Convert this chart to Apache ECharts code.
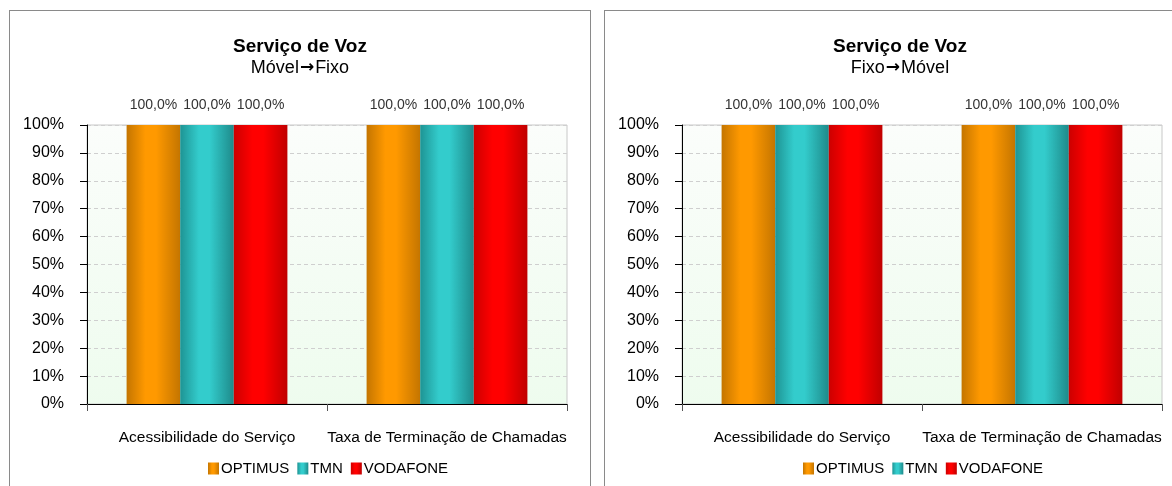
<!DOCTYPE html>
<html><head><meta charset="utf-8">
<script src="https://cdn.jsdelivr.net/npm/echarts@6/dist/echarts.min.js"></script>
<style>
html,body{margin:0;padding:0;background:#fff;width:1172px;height:486px;overflow:hidden;}
.panel{position:absolute;border:1px solid #8a8a8a;background:#fff;}
#p1{left:9px;top:10px;width:580px;height:490px;}
#p2{left:604px;top:10px;width:590px;height:490px;}
.chart{position:absolute;left:0;top:0;width:100%;height:100%;}
</style></head>
<body>
<div class="panel" id="p1"><div class="chart" id="c1"></div></div>
<div class="panel" id="p2"><div class="chart" id="c2"></div></div>
<script>
const categories = ['Acessibilidade do Serviço', 'Taxa de Terminação de Chamadas'];
const seriesNames = ['OPTIMUS', 'TMN', 'VODAFONE'];
const movelFixo = {
  OPTIMUS: [100.0, 100.0],
  TMN: [100.0, 100.0],
  VODAFONE: [100.0, 100.0]
};
const fixoMovel = {
  OPTIMUS: [100.0, 100.0],
  TMN: [100.0, 100.0],
  VODAFONE: [100.0, 100.0]
};
const yTicks = [0, 10, 20, 30, 40, 50, 60, 70, 80, 90, 100];
const subtitles = [['Móvel', 'Fixo'], ['Fixo', 'Móvel']];
const titleText = 'Serviço de Voz';

const FONT = '"Liberation Sans Narrow", "Arial Narrow", "Liberation Sans", Arial, sans-serif';
const palettes = {
  OPTIMUS: ['#c47500', '#ff9900', '#ff9900', '#c47500'],
  TMN: ['#1e9494', '#33cccc', '#33cccc', '#1e8a8a'],
  VODAFONE: ['#cc0000', '#ff0000', '#ff0000', '#c00000']
};
function grad(name){
  const p = palettes[name];
  return new echarts.graphic.LinearGradient(0,0,1,0,[
    {offset:0,color:p[0]},{offset:0.35,color:p[1]},{offset:0.55,color:p[2]},{offset:1,color:p[3]}
  ]);
}

function build(el, sub, data){
  const chart = echarts.init(document.getElementById(el), null, {renderer:'canvas'});
  chart.setOption({
    animation:false,
    textStyle:{fontFamily:FONT},
    title:{
      text:titleText, subtext:sub[0] + '{a|\u2192}' + sub[1], left:'center', top:21, itemGap:3,
      textStyle:{fontFamily:FONT,fontSize:19,fontWeight:'bold',color:'#000'},
      subtextStyle:{fontFamily:FONT,fontSize:18,color:'#000',
        rich:{a:{fontFamily:'"DejaVu Sans", sans-serif',fontSize:17,fontWeight:'bold',color:'#000',padding:[0,1,0,1]}}}
    },
    legend:{
      data:seriesNames, left:193, top:445, itemWidth:11, itemHeight:12, itemGap:8,
      icon:'rect',
      textStyle:{fontFamily:FONT,fontSize:15,color:'#000',padding:[0,0,0,-3]}
    },
    grid:{
      left:77, top:114, width:480, height:279, show:true,
      backgroundColor:new echarts.graphic.LinearGradient(0,0,0,1,[
        {offset:0,color:'#fbfdfb'},{offset:1,color:'#eefcee'}
      ]),
      borderColor:'#c8c8c8', borderWidth:1
    },
    xAxis:{
      type:'category', data:categories,
      axisLine:{lineStyle:{color:'#000',width:1}},
      axisTick:{show:true,length:7,lineStyle:{color:'#555'}},
      axisLabel:{fontFamily:FONT,fontSize:15.5,color:'#000',margin:26,interval:0}
    },
    yAxis:{
      type:'value', min:yTicks[0], max:yTicks[yTicks.length-1], interval:10,
      axisLine:{show:true,lineStyle:{color:'#000',width:1}},
      axisTick:{show:true,length:7,lineStyle:{color:'#000'}},
      axisLabel:{fontFamily:FONT,fontSize:16,color:'#000',margin:23,
        formatter:v=>yTicks.indexOf(v)>=0 ? v+'%' : ''},
      splitLine:{show:true,lineStyle:{color:'#cfcfcf',type:[4,3],width:1}}
    },
    series:seriesNames.map(n=>({
      name:n, type:'bar', data:data[n], barGap:'0%', barCategoryGap:'33%',
      itemStyle:{color:grad(n)},
      label:{show:true,position:'top',distance:13,fontFamily:FONT,fontSize:14,color:'#333',
        formatter:p=>p.value.toFixed(1).replace('.',',')+'%'}
    }))
  });
}
build('c1', subtitles[0], movelFixo);
build('c2', subtitles[1], fixoMovel);
</script>
</body></html>
